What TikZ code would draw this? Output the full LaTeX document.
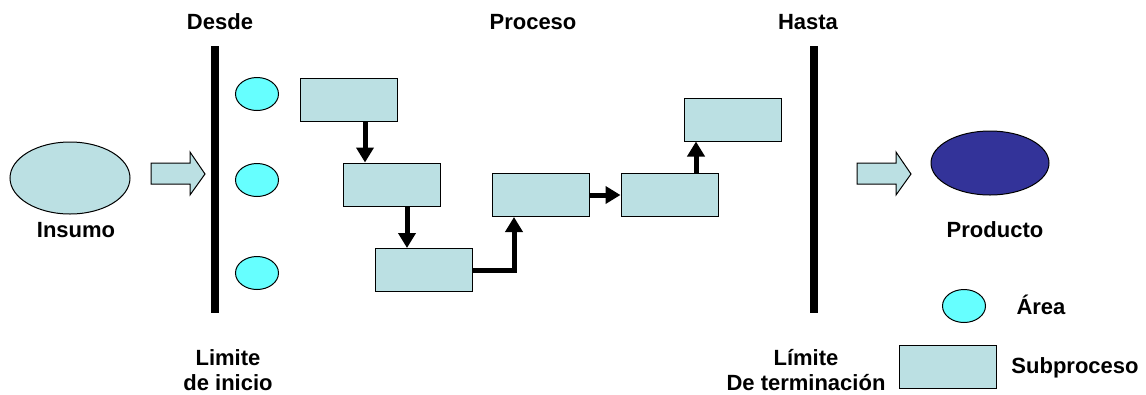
\documentclass[tikz,border=0pt]{standalone}
\usepackage{fontspec}
\setmainfont{Liberation Sans}
\usetikzlibrary{shapes.geometric,arrows.meta,positioning,calc}

\definecolor{subfill}{HTML}{BBE0E3}
\definecolor{areafill}{HTML}{66FFFF}
\definecolor{prodfill}{HTML}{333399}

\tikzset{
    sub/.style={draw, line width=1pt, fill=subfill, rectangle, minimum width=97pt, minimum height=43pt, inner sep=0pt},
    area/.style={draw, line width=1pt, fill=areafill, ellipse, minimum width=43pt, minimum height=33pt, inner sep=0pt},
    lbl/.style={font=\fontsize{22}{25}\selectfont\bfseries, inner sep=0pt},
    flow/.style={line width=5pt, -{Triangle[length=15pt,width=17pt]}},
    bar/.style={line width=8pt},
    blockarrow/.style={draw, line width=1pt, fill=subfill, line join=miter}
}

\begin{document}
\begin{tikzpicture}[x=1pt, y=-1pt]
    \useasboundingbox (0,0) rectangle (1146,394);

    % entrada y salida
    \node (insumo) [draw, line width=1pt, fill=subfill, ellipse, minimum width=120pt, minimum height=72pt, inner sep=0pt] at (70,178) {};
    \node (insumolbl) [lbl] at (76,230) {Insumo};
    \node (producto) [draw, line width=1pt, fill=prodfill, ellipse, minimum width=118pt, minimum height=64pt, inner sep=0pt] at (990,163) {};
    \node (productolbl) [lbl] at (995,230) {Producto};

    \draw [blockarrow] (151,163) -- (190,163) -- (190,152) -- (205,174) -- (190,195) -- (190,184) -- (151,184) -- cycle;
    \draw [blockarrow] (857,163) -- (896,163) -- (896,152) -- (911,174) -- (896,195) -- (896,184) -- (857,184) -- cycle;

    % limites
    \draw [bar] (214.5,46) -- (214.5,313);
    \draw [bar] (814,46) -- (814,313);
    \node (desde) [lbl] at (220,22) {Desde};
    \node (proceso) [lbl] at (533,22) {Proceso};
    \node (hasta) [lbl] at (808,22) {Hasta};
    \node (inicio) [lbl, align=center] at (228,370) {Limite\\de inicio};
    \node (termino) [lbl, align=center] at (806,370) {Límite\\De terminación};

    % areas
    \node (area1) [area] at (257,94) {};
    \node (area2) [area] at (257,180) {};
    \node (area3) [area] at (257,273) {};

    % subprocesos
    \node (box1) [sub] at (348.5,99.5) {};
    \node (box2) [sub] at (391.5,184.5) {};
    \node (box3) [sub] at (423.5,270) {};
    \node (box4) [sub] at (541,195) {};
    \node (box5) [sub] at (669.5,195) {};
    \node (box6) [sub] at (733,119.5) {};

    \draw [flow] ([xshift=16.5pt]box1.south) -- ([xshift=16.5pt]box1.south |- box2.north);
    \draw [flow] ([xshift=15.5pt]box2.south) -- ([xshift=15.5pt]box2.south |- box3.north);
    \draw [flow] (box3.east) -| ([xshift=-27pt]box4.south);
    \draw [flow] (box4.east) -- (box5.west);
    \draw [flow] ([xshift=26.5pt]box5.north) -- ([xshift=26.5pt]box5.north |- box6.south);

    % leyenda
    \node (legarea) [area] at (964,306) {};
    \node (legarealbl) [lbl] at (1041,305) {Área};
    \node (legsub) [sub] at (947.5,366.5) {};
    \node (legsublbl) [lbl] at (1075,368) {Subproceso};
\end{tikzpicture}
\end{document}
